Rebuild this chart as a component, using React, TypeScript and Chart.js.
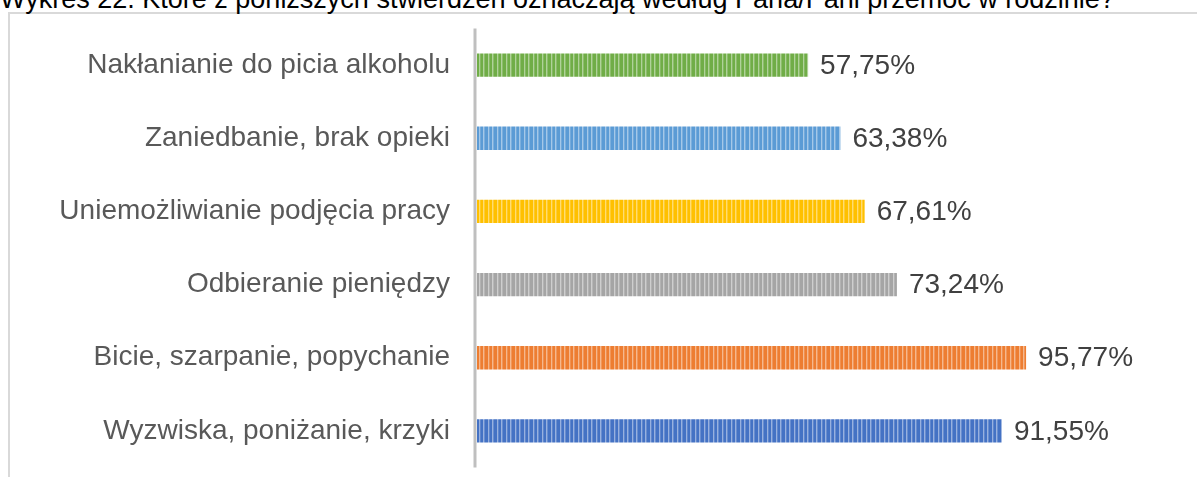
import React, { useEffect, useRef } from "react";
import { Chart, registerables } from "chart.js";

Chart.register(...registerables);

const titleText =
  "Wykres 22. Które z poniższych stwierdzeń oznaczają według Pana/Pani przemoc w rodzinie?";

const categories = [
  "Nakłanianie do picia alkoholu",
  "Zaniedbanie, brak opieki",
  "Uniemożliwianie podjęcia pracy",
  "Odbieranie pieniędzy",
  "Bicie, szarpanie, popychanie",
  "Wyzwiska, poniżanie, krzyki",
];

const values = [57.75, 63.38, 67.61, 73.24, 95.77, 91.55];

const barColors = ["#70ad47", "#5b9bd5", "#ffc000", "#a5a5a5", "#ed7d31", "#4472c4"];

const axisMax = 120;

function mix(hex: string, t: number): string {
  const n = parseInt(hex.slice(1), 16);
  const r = (n >> 16) & 255, g = (n >> 8) & 255, b = n & 255;
  const f = (c: number) => Math.round(c + (255 - c) * t);
  return `rgb(${f(r)},${f(g)},${f(b)})`;
}

function makePattern(ctx: CanvasRenderingContext2D, color: string): CanvasPattern | string {
  const c = document.createElement("canvas");
  c.width = 9;
  c.height = 4;
  const p = c.getContext("2d");
  if (!p) return color;
  const cols = [color, color, mix(color, 0.45), mix(color, 0.15), color, color, mix(color, 0.45), mix(color, 0.2), color];
  cols.forEach((col, i) => {
    p.fillStyle = col;
    p.fillRect(i, 0, 1, 4);
  });
  return ctx.createPattern(c, "repeat") || color;
}

const fmt = (v: number) => v.toFixed(2).replace(".", ",") + "%";

const FONT = "'Liberation Sans', Arial, sans-serif";

export default function App() {
  const ref = useRef<HTMLCanvasElement>(null);

  useEffect(() => {
    const canvas = ref.current;
    if (!canvas) return;
    const ctx = canvas.getContext("2d");
    if (!ctx) return;
    const patterns = barColors.map((c) => makePattern(ctx, c));

    const axisLine = {
      id: "axisLine",
      beforeDatasetsDraw(chart: any) {
        const { ctx: c, chartArea } = chart;
        c.save();
        c.strokeStyle = "#bfbfbf";
        c.lineWidth = 3;
        c.beginPath();
        c.moveTo(chartArea.left - 2, chartArea.top);
        c.lineTo(chartArea.left - 2, chartArea.bottom);
        c.stroke();
        c.restore();
      },
    };

    const valueLabels = {
      id: "valueLabels",
      afterDatasetsDraw(chart: any) {
        const { ctx: c } = chart;
        const meta = chart.getDatasetMeta(0);
        c.save();
        c.font = `28px ${FONT}`;
        c.fillStyle = "#404040";
        c.textAlign = "left";
        c.textBaseline = "middle";
        meta.data.forEach((bar: any, i: number) => {
          c.fillText(fmt(values[i]), bar.x + 12, bar.y + 1);
        });
        c.restore();
      },
    };

    const chart = new Chart(canvas, {
      type: "bar",
      data: {
        labels: categories,
        datasets: [
          {
            data: values,
            backgroundColor: patterns as any,
            borderWidth: 0,
            barPercentage: 0.32,
            categoryPercentage: 1,
          },
        ],
      },
      options: {
        indexAxis: "y",
        animation: false,
        responsive: false,
        devicePixelRatio: 1,
        layout: { padding: { left: 0, right: 32, top: 28.5, bottom: 9.5 } },
        plugins: {
          legend: { display: false },
          tooltip: { enabled: false },
          title: { display: false },
        },
        scales: {
          x: { display: false, min: 0, max: axisMax },
          y: {
            grid: { display: false, drawTicks: false },
            border: { display: false },
            ticks: {
              color: "#595959",
              font: { family: FONT, size: 28 },
              padding: 27,
            },
            afterFit(scale: any) {
              scale.width = 477;
              scale.paddingTop = 0;
              scale.paddingBottom = 0;
            },
          },
        },
      },
      plugins: [axisLine, valueLabels],
    });
    return () => chart.destroy();
  }, []);

  return (
    <div style={{ position: "absolute", left: 0, top: 0, width: 1197, height: 477, overflow: "hidden", background: "#fff" }}>
      <div
        style={{
          position: "absolute",
          left: 8,
          top: 12,
          width: 1400,
          height: 800,
          borderLeft: "2px solid #d9d9d9",
          borderTop: "2px solid #d9d9d9",
        }}
      />
      <div
        style={{
          position: "absolute",
          left: 0,
          top: -14,
          fontFamily: FONT,
          fontSize: 27,
          lineHeight: "27px",
          whiteSpace: "nowrap",
          color: "#000",
        }}
      >
        {titleText}
      </div>
      <canvas ref={ref} width={1197} height={477} style={{ position: "absolute", left: 0, top: 0 }} />
    </div>
  );
}
